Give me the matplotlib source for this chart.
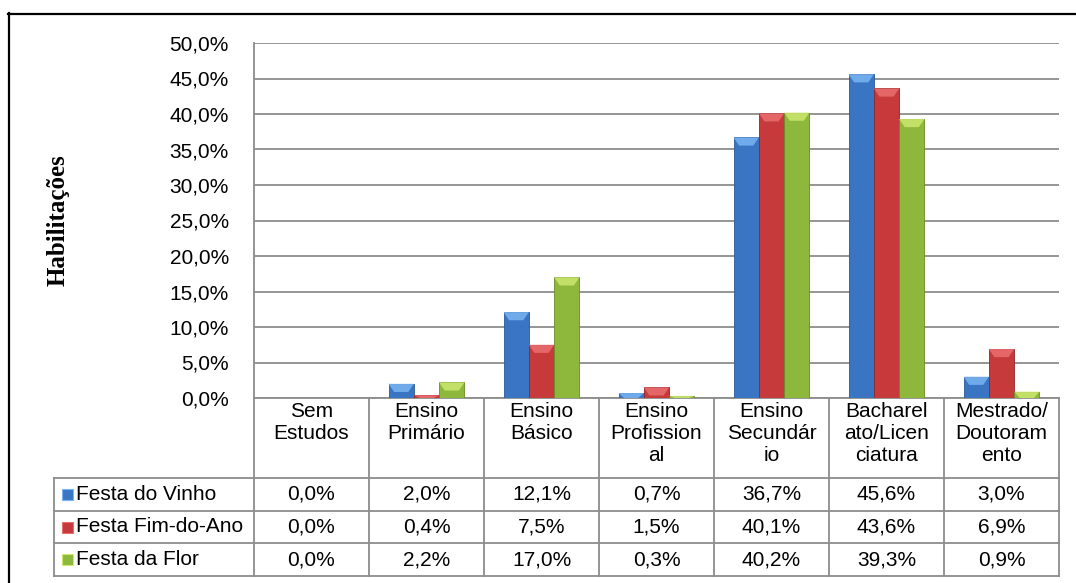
import matplotlib
matplotlib.use("Agg")
import matplotlib.pyplot as plt
import numpy as np
from matplotlib.patches import Polygon, Rectangle
from matplotlib.lines import Line2D
from matplotlib.ticker import FuncFormatter
from matplotlib.transforms import blended_transform_factory

categories = [
    "Sem\nEstudos", "Ensino\nPrimário", "Ensino\nBásico", "Ensino\nProfission\nal",
    "Ensino\nSecundár\nio", "Bacharel\nato/Licen\nciatura", "Mestrado/\nDoutoram\nento",
]
series_names = ["Festa do Vinho", "Festa Fim-do-Ano", "Festa da Flor"]
festa_vinho = [0.0, 2.0, 12.1, 0.7, 36.7, 45.6, 3.0]
festa_fim_ano = [0.0, 0.4, 7.5, 1.5, 40.1, 43.6, 6.9]
festa_flor = [0.0, 2.2, 17.0, 0.3, 40.2, 39.3, 0.9]
y_label = "Habilitações"

# (base, top bevel, dark edge) per series
_COLORS = [
    ("#3A75C4", "#79B4F2", "#2B5A96"),
    ("#C63A3C", "#EA6E6E", "#8F2628"),
    ("#8DB83B", "#CDE86E", "#6A8C26"),
]
GRID = "#8C8C8C"
W, H = 1076, 583
FS = 15


def fx(px):
    return px / W


def fy(py):
    return 1 - py / H


def pct(v, _pos=None):
    return f"{v:.1f}%".replace(".", ",")


plt.rcParams["font.family"] = ["Liberation Sans", "DejaVu Sans"]

fig = plt.figure(figsize=(W / 100, H / 100), dpi=100)
ax = fig.add_axes([fx(254), fy(398), fx(1059) - fx(254), fy(43) - fy(398)])

values = [festa_vinho, festa_fim_ano, festa_flor]
n = len(categories)
x = np.arange(n)
bw = 0.22
cap = 1.15  # height of the lighter top bevel, in % units (~8 px)

for i, vals in enumerate(values):
    base, light, dark = _COLORS[i]
    xs = x + (i - 1) * bw
    ax.bar(xs, vals, width=bw, color=base, edgecolor=dark, linewidth=0.6, zorder=3)
    for xc, v in zip(xs, vals):
        if v <= 0:
            continue
        h = min(cap, v)
        tri = Polygon([(xc - bw / 2, v), (xc + bw / 2, v), (xc + bw / 2 - bw * 0.22, v - h),
                       (xc - bw / 2 + bw * 0.22, v - h)],
                      closed=True, facecolor=light, edgecolor="none", alpha=0.85, zorder=4)
        ax.add_patch(tri)

ax.set_xlim(-0.5, n - 0.5)
ax.set_ylim(0, 50)
ax.set_yticks(np.arange(0, 50.1, 5))
ax.yaxis.set_major_formatter(FuncFormatter(pct))
ax.tick_params(axis="y", length=0, pad=18, labelsize=FS)
ax.set_xticks([])
ax.grid(axis="y", color=GRID, linewidth=1.3, zorder=0)
ax.set_axisbelow(True)
for side in ("top", "right"):
    ax.spines[side].set_visible(False)
for side in ("left", "bottom"):
    ax.spines[side].set_color(GRID)
    ax.spines[side].set_linewidth(1.3)

# --- data table under the axes ---
tr = blended_transform_factory(ax.transData, fig.transFigure)
row_edges = [398, 478, 511, 543, 576]
line_kw = dict(color=GRID, linewidth=1.3, clip_on=False)

for k in range(n + 1):
    fig.add_artist(Line2D([k - 0.5, k - 0.5], [fy(398), fy(576)], transform=tr, **line_kw))
fig.add_artist(Line2D([fx(54), fx(54)], [fy(478), fy(576)], transform=fig.transFigure, **line_kw))
for ry in row_edges[1:]:
    fig.add_artist(Line2D([fx(54), fx(1059)], [fy(ry), fy(ry)], transform=fig.transFigure, **line_kw))

for k, lab in enumerate(categories):
    fig.text(k, fy(402), lab, transform=tr, ha="center", va="top", fontsize=FS, linespacing=1.2)

for r, (name, vals) in enumerate(zip(series_names, values)):
    yc = fy((row_edges[r + 1] + row_edges[r + 2]) / 2)
    base, light, dark = _COLORS[r]
    fig.add_artist(Rectangle((fx(62), yc - 5.5 / H), 11 / W, 11 / H, transform=fig.transFigure,
                             facecolor=base, edgecolor=light, linewidth=0.8))
    fig.text(fx(76), yc, name, ha="left", va="center", fontsize=FS)
    for k, v in enumerate(vals):
        fig.text(k, yc, pct(v), transform=tr, ha="center", va="center", fontsize=FS)

fig.text(fx(58), fy(220), y_label, rotation=90, ha="center", va="center",
         fontsize=18, fontweight="bold", family=["Liberation Serif", "DejaVu Serif"])

# outer frame (right and bottom edges fall outside the crop)
frame_kw = dict(color="black", linewidth=1.6, transform=fig.transFigure)
fig.add_artist(Line2D([fx(8), 1], [fy(13.5), fy(13.5)], **frame_kw))
fig.add_artist(Line2D([fx(8.5), fx(8.5)], [fy(13), 0], **frame_kw))

fig.savefig("out.png", dpi=100)
